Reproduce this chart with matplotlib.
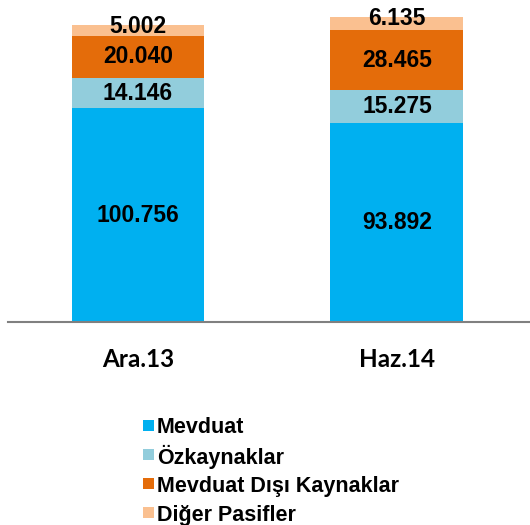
import matplotlib.pyplot as plt
from matplotlib.patches import Rectangle

categories = ["Ara.13", "Haz.14"]
series = ["Mevduat", "Özkaynaklar", "Mevduat Dışı Kaynaklar", "Diğer Pasifler"]
mevduat = [100.756, 93.892]
ozkaynak = [14.146, 15.275]
mevduat_disi = [20.040, 28.465]
diger = [5.002, 6.135]
colors = ["#00B0F0", "#92CDDC", "#E46C0A", "#FAC090"]

values = [mevduat, ozkaynak, mevduat_disi, diger]

W, H = 530, 525
fig = plt.figure(figsize=(W / 100, H / 100), dpi=100)
ax = fig.add_axes([8 / W, 1 - 322 / H, 1 - 8 / W, 322 / H])

x = range(len(categories))
bottom = [0.0] * len(categories)
for vals, col in zip(values, colors):
    ax.bar(x, vals, width=0.513, bottom=bottom, color=col, edgecolor="none")
    for i, v in enumerate(vals):
        # top segment is thin, its label sits near the top edge
        yc = bottom[i] + (v * 0.85 if vals is diger else v / 2)
        ax.text(i, yc, f"{v:.3f}", ha="center", va="center",
                fontsize=16.5, fontweight="bold", family="Liberation Sans", color="black")
    bottom = [b + v for b, v in zip(bottom, vals)]

ax.set_xlim(-0.502, 1.514)
ax.set_ylim(0, 151.7)
for s in ["top", "right", "left"]:
    ax.spines[s].set_visible(False)
ax.spines["bottom"].set_color("#808080")
ax.spines["bottom"].set_linewidth(1.5)
ax.set_yticks([])
ax.set_xticks(list(x))
ax.set_xticklabels(categories, fontsize=17.5, fontweight="bold", family="Lato")
ax.tick_params(axis="x", length=0, pad=19)

# legend, one row per series
for k, (name, col) in enumerate(zip(series, colors)):
    yc = 425 + k * 29.3
    fig.patches.append(Rectangle((143 / W, 1 - (yc + 5.5) / H), 11 / W, 11 / H,
                                 transform=fig.transFigure, facecolor=col, edgecolor="none"))
    fig.text(157 / W, 1 - yc / H, name, ha="left", va="center_baseline",
             fontsize=15.5, fontweight="bold", family="Liberation Sans")

fig.savefig("out.png", dpi=100)
